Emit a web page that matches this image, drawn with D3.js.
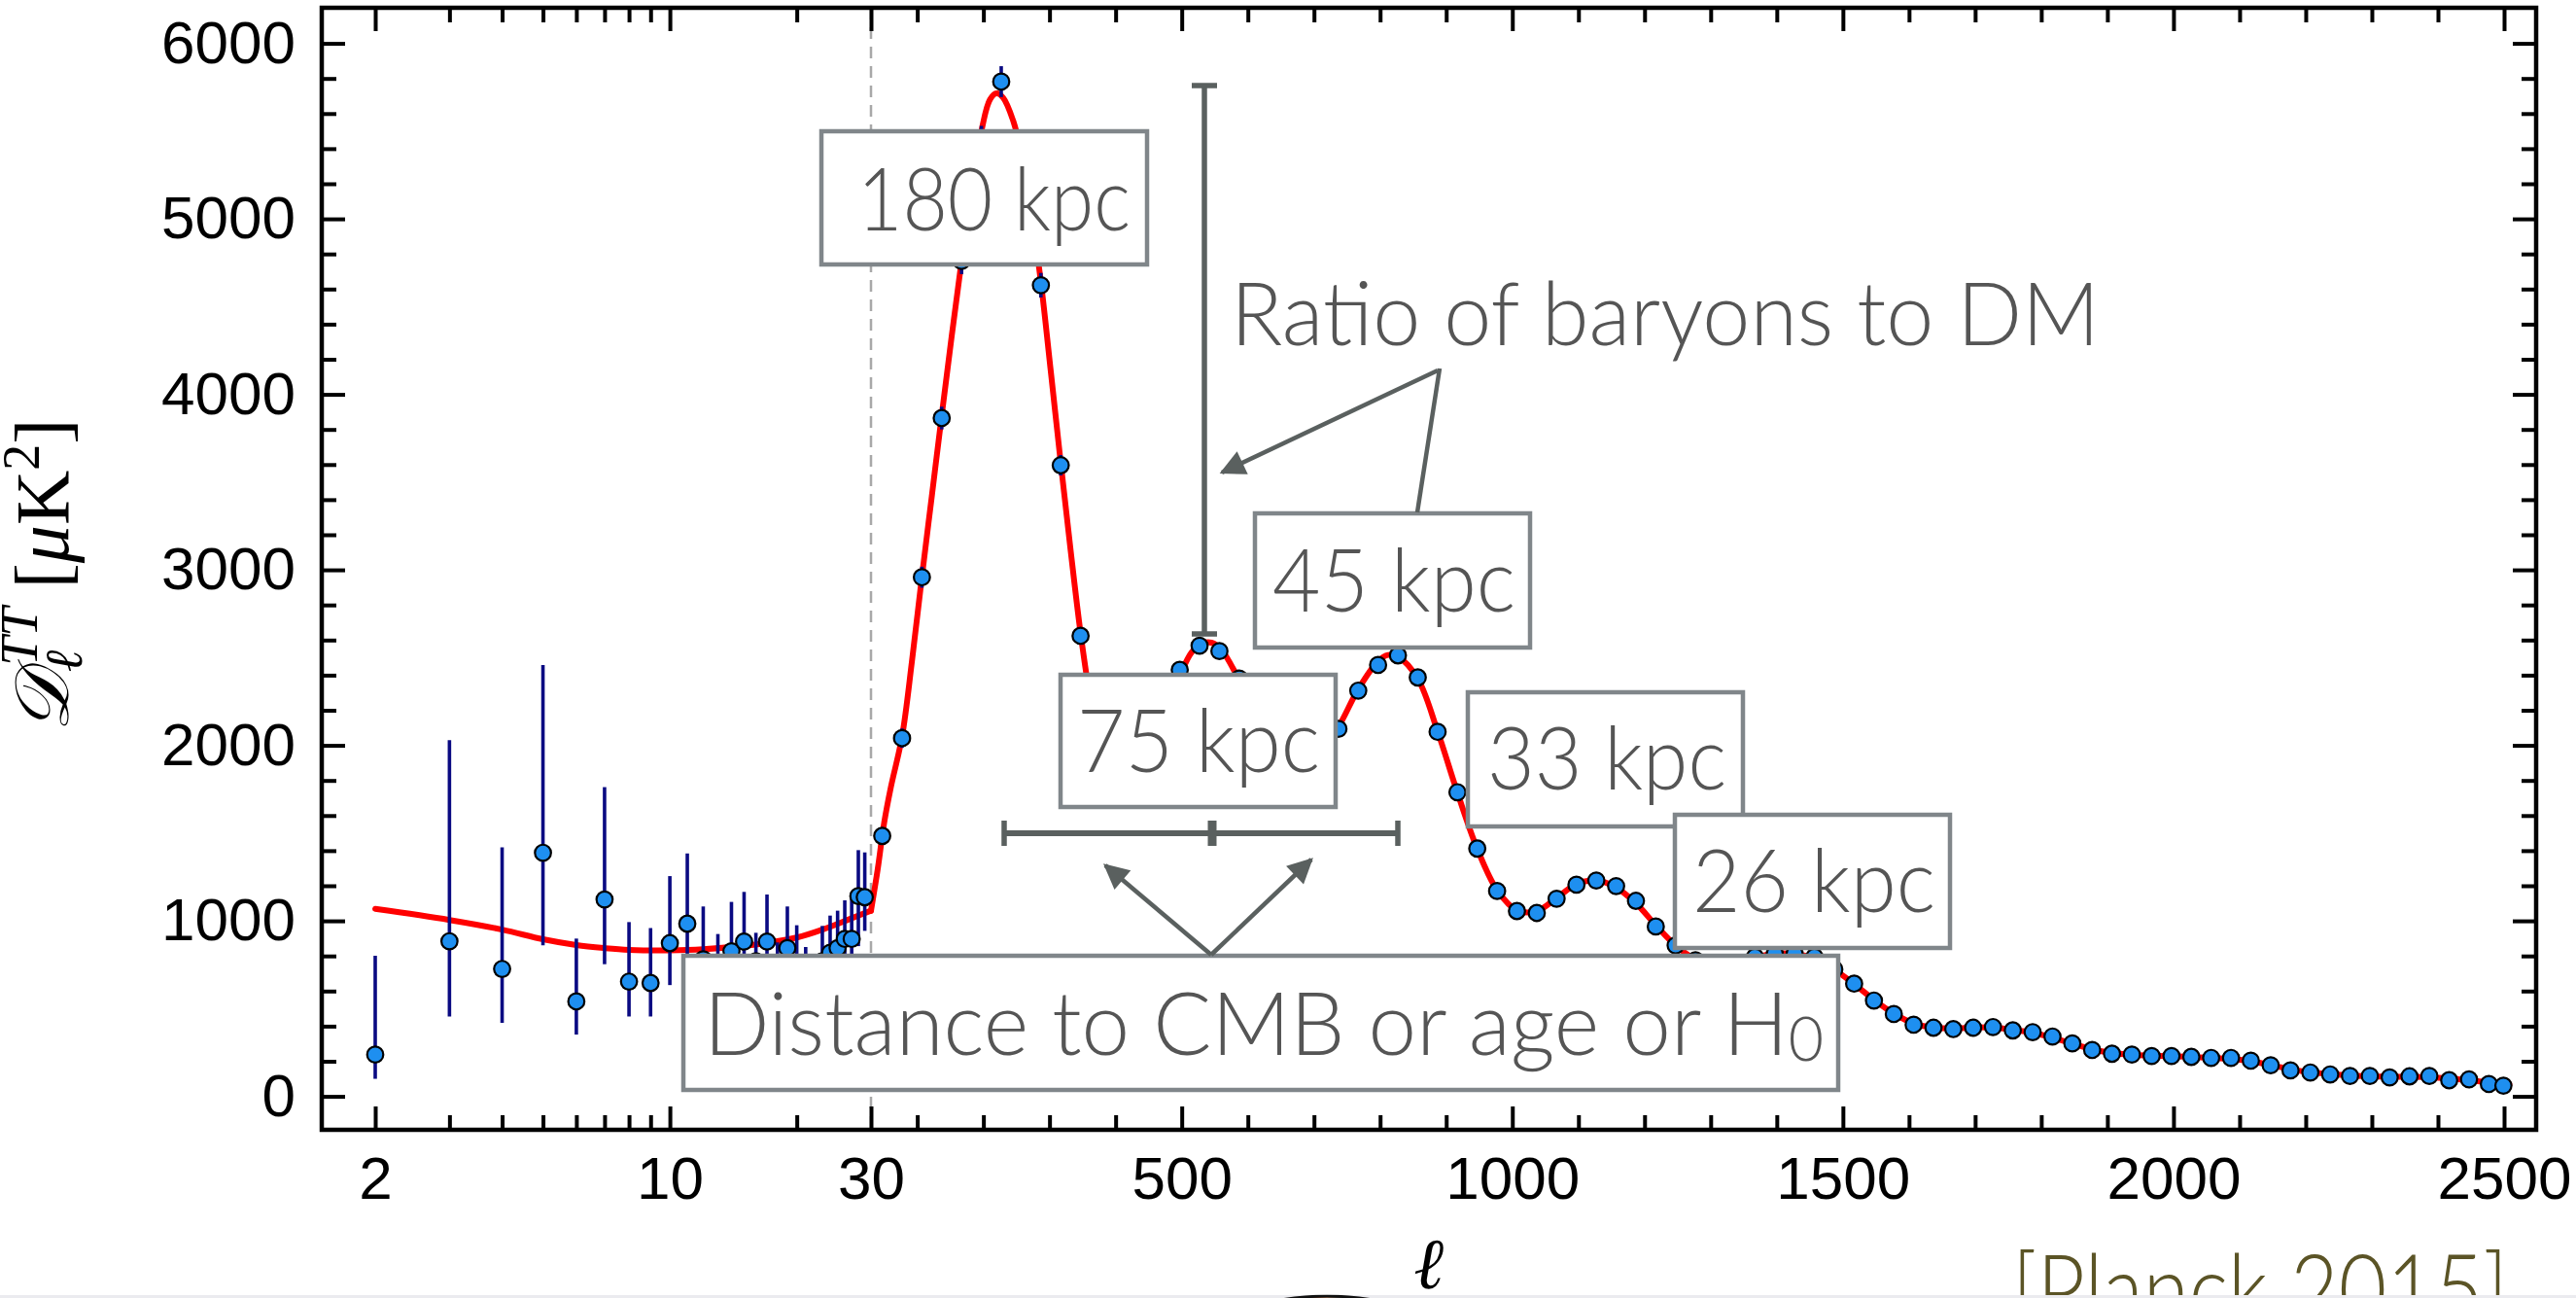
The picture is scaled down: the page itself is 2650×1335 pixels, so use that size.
<!DOCTYPE html>
<html><head><meta charset="utf-8">
<script src="https://cdn.jsdelivr.net/npm/d3@7"></script>
<style>body{margin:0;background:#fff;} svg{display:block;}</style>
</head><body>
<svg id="chart" width="2650" height="1335"></svg>
<script>
// ---------------- DATA ----------------
// Low-ell (2..29) individual multipoles with asymmetric error bars
const lowL = [2,3,4,5,6,7,8,9,10,11,12,13,14,15,16,17,18,19,20,21,22,23,24,25,26,27,28,29];
const lowD = [238,884,726,1388,541,1122,654,646,873,984,781,730,827,882,770,882,720,845,760,700,650,770,818,845,897,897,1141,1135];
const lowLower = [100,455,419,860,352,753,455,455,634,700,560,540,600,650,590,670,560,650,600,560,520,610,650,680,720,720,856,943];
const lowUpper = [801,2029,1419,2458,899,1762,993,959,1255,1384,1082,925,1108,1165,932,1150,877,1082,975,851,790,971,1030,1058,1117,1160,1403,1390];

// High-ell binned spectrum (bins of width 30)
const highL = [47,77,107,137,167,197,227,257,287,317,347,377,407,437,467,497,527,557,587,617,647,677,707,737,767,797,827,857,887,917,947,977,1007,1037,1067,1097,1127,1157,1187,1217,1247,1277,1307,1337,1367,1397,1427,1457,1487,1517,1547,1577,1607,1637,1667,1697,1727,1757,1787,1817,1847,1877,1907,1937,1967,1997,2027,2057,2087,2117,2147,2177,2207,2237,2267,2297,2327,2357,2387,2417,2447,2477,2499];
const highD = [1484,2041,2958,3865,4760,5430,5782,5400,4622,3596,2624,1990,1720,1770,2070,2430,2568,2537,2380,2140,1960,1880,1940,2094,2312,2458,2513,2387,2077,1733,1412,1170,1056,1045,1126,1206,1230,1198,1114,968,860,775,738,748,795,812,812,795,724,642,546,469,408,391,383,391,395,376,366,341,302,264,243,238,230,230,225,219,219,203,177,148,136,125,116,116,108,114,116,92,97,70,61];
const highErr = [50,55,60,65,75,100,88,80,70,58,48,40,35,34,35,37,38,36,33,30,28,27,27,28,29,30,30,28,26,23,20,18,17,17,17,18,18,17,16,15,14,13,13,13,13,13,13,12,12,11,10,10,9,9,9,9,9,9,9,9,9,9,9,9,10,10,10,10,11,11,11,12,12,13,13,14,14,15,16,17,18,19,20];

// Best-fit model curve
const modelL = [2,3,4,5,6,7,8,10,12,15,17,20,23,27,30,
  40,50,60,77,92,107,122,137,152,167,182,197,210,220,230,245,257,272,287,302,317,332,347,362,377,392,410,425,440,455,470,485,500,515,530,545,560,
  587,617,647,677,707,737,767,797,812,827,857,887,917,947,977,1007,1037,1067,1097,1127,1157,1187,1217,1247,
  1277,1307,1337,1367,1397,1427,1457,1487,1517,1547,1577,1607,1637,1667,1697,1727,1757,1787,1817,1847,1877,1907,1937,1967,1997,2027,2057,2087,2117,2147,2177,2207,2237,2267,2297,2327,2357,2387,2417,2447,2477,2508];
const modelD = [1068,1005,950,895,862,845,835,832,838,858,875,905,950,1015,1058,
  1290,1560,1760,2050,2480,2960,3420,3880,4330,4760,5170,5500,5680,5715,5690,5560,5380,5050,4640,4130,3610,3110,2640,2260,1990,1810,1715,1710,1770,1890,2060,2250,2420,2530,2580,2585,2545,
  2370,2130,1950,1880,1945,2105,2320,2480,2515,2505,2380,2080,1730,1410,1175,1060,1055,1130,1210,1230,1190,1100,975,860,
  780,742,750,790,813,812,785,722,640,550,472,415,392,387,391,393,380,362,335,300,268,247,237,232,229,225,219,212,200,178,155,137,126,118,114,112,111,109,102,92,80,68];

// Axis ticks
const yMajor = [0,1000,2000,3000,4000,5000,6000];
const yMinor = [200,400,600,800,1200,1400,1600,1800,2200,2400,2600,2800,3200,3400,3600,3800,4200,4400,4600,4800,5200,5400,5600,5800];
const xLogMajor = [2,10,30];
const xLogMinor = [3,4,5,6,7,8,9,20];
const xLinMajor = [500,1000,1500,2000,2500];
const xLinMinor = [100,200,300,400,600,700,800,900,1100,1200,1300,1400,1600,1700,1800,1900,2100,2200,2300,2400];

// Annotation texts
const boxLabels = ["180 kpc","45 kpc","75 kpc","33 kpc","26 kpc"];
const ratioLabel = "Ratio of baryons to DM";
const sourceLabel = "[Planck 2015]";

// ---------------- LAYOUT ----------------
const F = {left:331, right:2609, top:8, bottom:1162};
const svg = d3.select("#chart");

const xLog = d3.scaleLog().domain([2,30]).range([386,896]);
const xLin = d3.scaleLinear().domain([30,2500]).range([896,2576]);
const x = l => (l < 30 ? xLog(l) : xLin(l));
const y = d3.scaleLinear().domain([0,6000]).range([1127.6,44.6]);

const axisFont = "'Liberation Sans', Arial, Helvetica, sans-serif";
const annFont = "Lato, 'Open Sans', sans-serif";
const boxStroke = "#80868a";
const arrowCol = "#5a605f";
const annText = "#555555";

// defs
const defs = svg.append("defs");
defs.append("marker").attr("id","ah").attr("markerUnits","userSpaceOnUse")
  .attr("viewBox","0 0 10 10").attr("refX",9).attr("refY",5)
  .attr("markerWidth",30).attr("markerHeight",26).attr("orient","auto")
  .append("path").attr("d","M0,0 L10,5 L0,10 z").attr("fill",arrowCol);
const grad = defs.append("linearGradient").attr("id","cmb");
[["0%","#2a8fd0"],["15%","#f0a030"],["30%","#f6d070"],["45%","#e86020"],["60%","#58c8e8"],["75%","#f0a848"],["90%","#d85020"],["100%","#3aa0d8"]]
  .forEach(([o,c])=>grad.append("stop").attr("offset",o).attr("stop-color",c));
defs.append("clipPath").attr("id","bottomclip").append("rect")
  .attr("x",0).attr("y",1331.5).attr("width",2650).attr("height",4);

// dashed line at ell = 30
svg.append("line").attr("x1",x(30)).attr("x2",x(30)).attr("y1",F.top).attr("y2",F.bottom)
  .attr("stroke","#a8a8a8").attr("stroke-width",2.5).attr("stroke-dasharray","12,8");

// axes
function styleAxis(g){
  g.select(".domain").remove();
  g.selectAll(".tick line").attr("stroke","#000").attr("stroke-width",4);
  g.selectAll(".tick text").attr("font-family",axisFont).attr("font-size",62).attr("fill","#000");
}
const fmt = d3.format("d");
const none = () => "";
// bottom
svg.append("g").attr("transform",`translate(0,${F.bottom})`)
  .call(d3.axisBottom(xLog).tickValues(xLogMajor).tickSize(-24).tickPadding(27).tickFormat(fmt)).call(styleAxis);
svg.append("g").attr("transform",`translate(0,${F.bottom})`)
  .call(d3.axisBottom(xLog).tickValues(xLogMinor).tickSize(-15).tickFormat(none)).call(styleAxis);
svg.append("g").attr("transform",`translate(0,${F.bottom})`)
  .call(d3.axisBottom(xLin).tickValues(xLinMajor).tickSize(-24).tickPadding(27).tickFormat(fmt)).call(styleAxis);
svg.append("g").attr("transform",`translate(0,${F.bottom})`)
  .call(d3.axisBottom(xLin).tickValues(xLinMinor).tickSize(-15).tickFormat(none)).call(styleAxis);
// top
svg.append("g").attr("transform",`translate(0,${F.top})`)
  .call(d3.axisTop(xLog).tickValues(xLogMajor).tickSize(-24).tickFormat(none)).call(styleAxis);
svg.append("g").attr("transform",`translate(0,${F.top})`)
  .call(d3.axisTop(xLog).tickValues(xLogMinor).tickSize(-15).tickFormat(none)).call(styleAxis);
svg.append("g").attr("transform",`translate(0,${F.top})`)
  .call(d3.axisTop(xLin).tickValues(xLinMajor).tickSize(-24).tickFormat(none)).call(styleAxis);
svg.append("g").attr("transform",`translate(0,${F.top})`)
  .call(d3.axisTop(xLin).tickValues(xLinMinor).tickSize(-15).tickFormat(none)).call(styleAxis);
// left
svg.append("g").attr("transform",`translate(${F.left},0)`)
  .call(d3.axisLeft(y).tickValues(yMajor).tickSize(-24).tickPadding(27).tickFormat(fmt)).call(styleAxis);
svg.append("g").attr("transform",`translate(${F.left},0)`)
  .call(d3.axisLeft(y).tickValues(yMinor).tickSize(-15).tickFormat(none)).call(styleAxis);
// right
svg.append("g").attr("transform",`translate(${F.right},0)`)
  .call(d3.axisRight(y).tickValues(yMajor).tickSize(-24).tickFormat(none)).call(styleAxis);
svg.append("g").attr("transform",`translate(${F.right},0)`)
  .call(d3.axisRight(y).tickValues(yMinor).tickSize(-15).tickFormat(none)).call(styleAxis);

// frame
svg.append("rect").attr("x",F.left).attr("y",F.top).attr("width",F.right-F.left).attr("height",F.bottom-F.top)
  .attr("fill","none").attr("stroke","#000").attr("stroke-width",4.5);

// model curve (two smooth pieces meeting at ell=30)
const model = modelL.map((l,i)=>({l, v:modelD[i]}));
const line = d3.line().x(d=>x(d.l)).y(d=>y(d.v)).curve(d3.curveCatmullRom.alpha(0.5));
[model.filter(d=>d.l<=30), model.filter(d=>d.l>=30)].forEach(seg=>{
  svg.append("path").attr("d",line(seg)).attr("fill","none").attr("stroke","#ff0000")
    .attr("stroke-width",6).attr("stroke-linejoin","round").attr("stroke-linecap","round");
});

// error bars
const lowPts = lowL.map((l,i)=>({l, v:lowD[i], lo:lowLower[i], hi:lowUpper[i]}));
const highPts = highL.map((l,i)=>({l, v:highD[i], lo:highD[i]-highErr[i], hi:highD[i]+highErr[i]}));
const allPts = lowPts.concat(highPts);
svg.append("g").selectAll("line").data(allPts).join("line")
  .attr("x1",d=>x(d.l)).attr("x2",d=>x(d.l)).attr("y1",d=>y(d.lo)).attr("y2",d=>y(d.hi))
  .attr("stroke","#0a0a82").attr("stroke-width",3.6);
svg.append("g").selectAll("circle").data(allPts).join("circle")
  .attr("cx",d=>x(d.l)).attr("cy",d=>y(d.v)).attr("r",8.3)
  .attr("fill","#1e8ff0").attr("stroke","#000").attr("stroke-width",2.2);

// ---------------- ANNOTATIONS ----------------
function box(rx,ry,rw,rh,tx,ty,tw,label){
  svg.append("rect").attr("x",rx).attr("y",ry).attr("width",rw).attr("height",rh)
    .attr("fill","#fff").attr("stroke",boxStroke).attr("stroke-width",4.5);
  return svg.append("text").attr("x",tx).attr("y",ty).attr("font-family",annFont).attr("font-weight",300)
    .attr("font-size",91).attr("fill",annText).attr("textLength",tw).attr("lengthAdjust","spacingAndGlyphs").text(label);
}
box(845,135,335,137, 882,237,281, boxLabels[0]);
box(1091,694,283,136, 1108,794,250, boxLabels[2]);
box(1510,712,283,138, 1530,812,246, boxLabels[3]);
box(1291,528,283,138, 1309,629,250, boxLabels[1]);
box(1723,838,283,137, 1741,938,250, boxLabels[4]);
const dist = box(703,983,1188,138, 724,1085,1152, "");
dist.append("tspan").text("Distance to CMB or age or H");
dist.append("tspan").attr("font-size",64).attr("dy",6).text("0");

// ratio bar (vertical)
const g = svg.append("g").attr("stroke",arrowCol).attr("stroke-width",5.5).attr("fill","none");
g.append("line").attr("x1",1239).attr("x2",1239).attr("y1",88).attr("y2",652);
g.append("line").attr("x1",1226).attr("x2",1252).attr("y1",88).attr("y2",88);
g.append("line").attr("x1",1226).attr("x2",1252).attr("y1",652).attr("y2",652);
// distance bar (horizontal)
g.append("line").attr("x1",1033).attr("x2",1438).attr("y1",857).attr("y2",857).attr("stroke-width",6);
g.append("line").attr("x1",1033).attr("x2",1033).attr("y1",844).attr("y2",870);
g.append("line").attr("x1",1438).attr("x2",1438).attr("y1",844).attr("y2",870);
g.append("line").attr("x1",1247).attr("x2",1247).attr("y1",844).attr("y2",870).attr("stroke-width",9);
// arrows
const a = svg.append("g").attr("stroke",arrowCol).attr("stroke-width",4.5);
a.append("line").attr("x1",1479).attr("y1",381).attr("x2",1257).attr("y2",486).attr("marker-end","url(#ah)");
a.append("line").attr("x1",1481).attr("y1",379).attr("x2",1458).attr("y2",527);
a.append("line").attr("x1",1246).attr("y1",982).attr("x2",1137).attr("y2",890).attr("marker-end","url(#ah)");
a.append("line").attr("x1",1246).attr("y1",982).attr("x2",1349).attr("y2",884).attr("marker-end","url(#ah)");

svg.append("text").attr("x",1266).attr("y",355).attr("font-family",annFont).attr("font-weight",300)
  .attr("font-size",91).attr("fill",annText).attr("textLength",894).attr("lengthAdjust","spacingAndGlyphs").text(ratioLabel);

// axis titles
const yl = svg.append("text").attr("transform","translate(70,592) rotate(-90)").attr("text-anchor","middle")
  .attr("font-family","'Liberation Serif','DejaVu Serif',serif").attr("font-size",78).attr("fill","#000");
yl.append("tspan").attr("font-style","italic").text("𝒟");
yl.append("tspan").attr("font-style","italic").attr("font-size",54).attr("dy",14).text("ℓ");
yl.append("tspan").attr("font-style","italic").attr("font-size",54).attr("dx",-16).attr("dy",-46).text("TT");
yl.append("tspan").attr("dy",32).text(" [");
yl.append("tspan").attr("font-style","italic").text("μ");
yl.append("tspan").text("K");
yl.append("tspan").attr("font-size",54).attr("dy",-30).text("2");
yl.append("tspan").attr("dy",30).text("]");

svg.append("text").attr("x",1470).attr("y",1325).attr("text-anchor","middle")
  .attr("font-family","'Liberation Serif','DejaVu Serif',serif").attr("font-style","italic")
  .attr("font-size",74).attr("fill","#000").text("ℓ");

// source
svg.append("text").attr("x",2070).attr("y",1362).attr("font-family",annFont).attr("font-weight",300)
  .attr("font-size",100).attr("fill","#5b5426").attr("textLength",510).attr("lengthAdjust","spacingAndGlyphs").text(sourceLabel);

// bottom slide strip and cropped map
svg.append("rect").attr("x",0).attr("y",1332).attr("width",2650).attr("height",3).attr("fill","#ebebef");
svg.append("ellipse").attr("clip-path","url(#bottomclip)").attr("cx",1365).attr("cy",1562).attr("rx",252).attr("ry",229)
  .attr("fill","url(#cmb)").attr("stroke","#111").attr("stroke-width",3);
</script></body></html>
